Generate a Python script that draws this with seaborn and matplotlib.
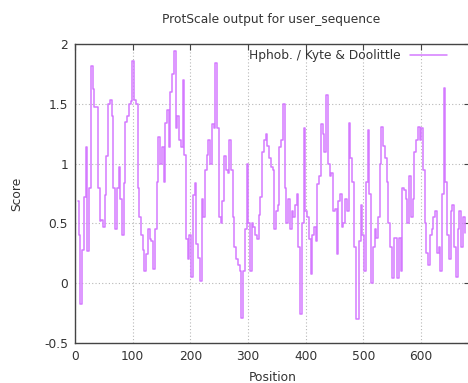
import matplotlib
matplotlib.use('Agg')
import matplotlib.pyplot as plt
import pandas as pd
import seaborn as sns

# ProtScale hydrophobicity profile (Kyte & Doolittle)
title = 'ProtScale output for user_sequence'
series_name = 'Hphob. / Kyte & Doolittle'
x_ticks = [0, 100, 200, 300, 400, 500, 600]
y_ticks = [-0.5, 0, 0.5, 1, 1.5, 2]
y_tick_labels = ['-0.5', '0', '0.5', '1', '1.5', '2']

positions = list(range(5, 678, 3))
scores = [
    # 5 - 83
    0.69, 0.40, -0.17, 0.28, 0.72, 1.14, 0.27, 0.80, 1.82, 1.62, 1.47, 1.47, 0.80, 0.52,
    0.53, 0.47, 0.74, 1.06, 1.50, 1.53, 1.40, 0.80, 0.45, 0.80, 0.97, 0.70, 0.40,
    # 86 - 167
    0.84, 1.35, 1.40, 1.50, 1.52, 1.86, 1.53, 1.50, 0.80, 0.55, 0.40, 0.28, 0.10, 0.24,
    0.45, 0.37, 0.35, 0.12, 0.45, 0.85, 1.22, 1.00, 1.14, 0.85, 1.34, 1.45, 1.14, 1.60,
    # 170 - 251
    1.75, 1.94, 1.30, 1.40, 1.20, 1.14, 1.70, 1.07, 0.37, 0.20, 0.40, 0.05, 0.74, 0.84,
    0.33, 0.21, 0.02, 0.70, 0.55, 0.95, 1.07, 1.20, 1.00, 1.33, 1.30, 1.84, 1.30, 0.55,
    # 254 - 332
    0.50, 0.69, 1.06, 0.95, 0.92, 1.20, 0.95, 0.55, 0.30, 0.20, 0.15, 0.10, -0.29, 0.10,
    0.45, 1.00, 0.50, 0.10, 0.50, 0.47, 0.40, 0.37, 0.57, 0.72, 1.10, 1.20, 1.25,
    # 335 - 416
    1.15, 1.05, 0.97, 0.95, 0.45, 0.60, 0.65, 1.14, 1.20, 1.50, 0.80, 0.50, 0.70, 0.45,
    0.60, 0.55, 0.65, 0.75, 0.30, -0.26, 0.50, 1.30, 0.60, 0.55, 0.37, 0.08, 0.40, 0.47,
    # 419 - 500
    0.35, 0.83, 0.90, 1.33, 1.25, 1.10, 1.57, 1.00, 0.90, 0.92, 0.60, 0.62, 0.24, 0.69,
    0.75, 0.47, 0.50, 0.70, 0.60, 1.34, 1.05, 0.85, 0.30, -0.30, -0.30, 0.35, 0.65, 0.40,
    # 503 - 581
    0.10, 0.85, 1.28, 0.75, 0.00, 0.30, 0.45, 0.38, 0.55, 1.00, 1.31, 1.15, 1.05, 0.85,
    0.50, 0.30, 0.04, 0.38, 0.38, 0.04, 0.38, 0.10, 0.80, 0.78, 0.70, 0.50, 0.90,
    # 584 - 677
    0.55, 0.70, 1.10, 1.20, 1.31, 1.20, 1.30, 0.95, 0.50, 0.25, 0.15, 0.40, 0.45, 0.55,
    0.60, 0.25, 0.30, 0.10, 0.75, 1.63, 0.85, 0.40, 0.20, 0.60, 0.65, 0.30, 0.05, 0.45,
    0.60, 0.30, 0.55, 0.42,
]

df = pd.DataFrame({'Position': positions, 'Score': scores})

sns.set_style('white')
plt.rcParams['font.family'] = ['DejaVu Sans']

fig = plt.figure(figsize=(4.68, 3.83), dpi=100)
ax = fig.add_axes([75 / 468, 40 / 383, 395 / 468, 299 / 383])

sns.lineplot(data=df, x='Position', y='Score', ax=ax, color='#d47aff',
             linewidth=1.1, drawstyle='steps-mid', label=series_name)

ax.set_xlim(0, 685)
ax.set_ylim(-0.5, 2)
ax.set_xticks(x_ticks)
ax.set_yticks(y_ticks)
ax.set_yticklabels(y_tick_labels)
ax.grid(True, color='#b8b8b8', linestyle=(0, (1, 2)), linewidth=0.8)
ax.tick_params(direction='in', length=4, top=True, right=True,
               labelsize=8.8, labelcolor='#333333', color='#444444', pad=5)
for s in ax.spines.values():
    s.set_color('#444444')
    s.set_linewidth(1.0)

ax.set_xlabel('Position', fontsize=8.8, color='#333333')
ax.set_ylabel('Score', fontsize=8.8, color='#333333')
ax.xaxis.set_label_coords(0.5, -0.092)
ax.yaxis.set_label_coords(-0.132, 0.5)

leg = ax.legend(loc='upper right', frameon=False, fontsize=8.8, markerfirst=False,
                handlelength=3.0, handletextpad=0.8, borderaxespad=0.0,
                bbox_to_anchor=(0.954, 1.0))
for t in leg.get_texts():
    t.set_color('#333333')

fig.text(271 / 468, 1 - 20 / 383, title, ha='center', va='center',
         fontsize=8.8, color='#333333')

fig.savefig('out.png', dpi=100)
